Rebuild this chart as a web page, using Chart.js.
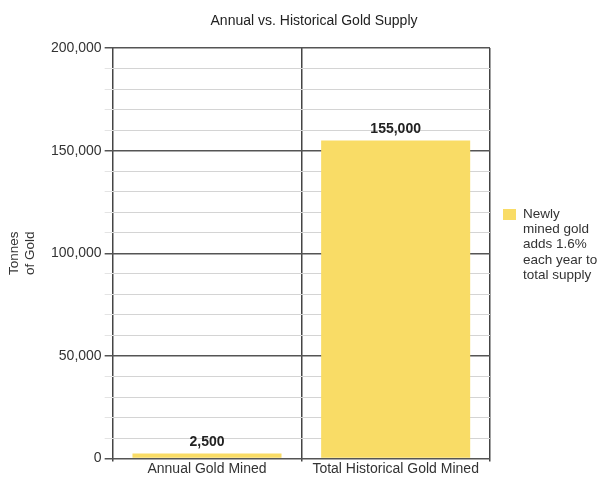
<!DOCTYPE html>
<html>
<head>
<meta charset="utf-8">
<title>Annual vs. Historical Gold Supply</title>
<script src="https://cdn.jsdelivr.net/npm/chart.js@4"></script>
<style>
  html, body { margin: 0; padding: 0; background: #fff; }
  #goldChart { display: block; }
</style>
</head>
<body>
<canvas id="goldChart" width="606" height="477"></canvas>
<script>
// 카테고리 / 값
const categories = ['Annual Gold Mined', 'Total Historical Gold Mined'];
const tonnes = [2500, 155000];
const seriesLabel = ['Newly', 'mined gold', 'adds 1.6%', 'each year to', 'total supply'];
const chartTitle = 'Annual vs. Historical Gold Supply';
const yTitle = ['Tonnes', 'of Gold'];

const barColor = '#f9dc66';
const textColor = '#333';
const fontFamily = '"Liberation Sans", Arial, sans-serif';

document.addEventListener('DOMContentLoaded', function() {

  // 제목 (캔버스 전체 기준 가운데 정렬)
  const topTitle = {
    id: 'topTitle',
    afterDraw(chart) {
      const c = chart.ctx;
      c.save();
      c.font = '14px ' + fontFamily;
      c.fillStyle = '#222';
      c.textAlign = 'center';
      c.textBaseline = 'middle';
      c.fillText(chartTitle, chart.width / 2 + 11, 21);
      c.restore();
    }
  };

  // 막대 위 값 표시
  const valueLabels = {
    id: 'valueLabels',
    afterDatasetsDraw(chart) {
      const c = chart.ctx;
      const meta = chart.getDatasetMeta(0);
      c.save();
      c.font = 'bold 14px ' + fontFamily;
      c.fillStyle = '#222';
      c.textAlign = 'center';
      c.textBaseline = 'bottom';
      meta.data.forEach((bar, i) => {
        const v = chart.data.datasets[0].data[i];
        c.fillText(v.toLocaleString('en-US'), bar.x, bar.y - 4);
      });
      c.restore();
    }
  };

  // 오른쪽 범례 (여러 줄)
  const sideLegend = {
    id: 'sideLegend',
    afterDraw(chart) {
      const c = chart.ctx;
      const area = chart.chartArea;
      const ds = chart.data.datasets[0];
      const x = area.right + 13;
      const y = 209;
      c.save();
      c.fillStyle = ds.backgroundColor;
      c.fillRect(x, y, 13, 11);
      c.font = '13.5px ' + fontFamily;
      c.fillStyle = textColor;
      c.textAlign = 'left';
      c.textBaseline = 'middle';
      ds.label.forEach((line, i) => {
        c.fillText(line, x + 20, y + 5 + i * 15.3);
      });
      c.restore();
    }
  };

  const ctx = document.getElementById('goldChart');
  const goldChart = new Chart(ctx, {
    type: 'bar',
    data: {
      labels: categories,
      datasets: [{
        label: seriesLabel,
        data: tonnes,
        backgroundColor: barColor,
        borderWidth: 0,
        barPercentage: 0.79,
        categoryPercentage: 1
      }]
    },
    options: {
      responsive: false,
      animation: false,
      layout: {
        padding: { left: 3, right: 116, top: 48, bottom: 0 }
      },
      plugins: {
        legend: { display: false },
        tooltip: { enabled: false },
        title: { display: false }
      },
      scales: {
        x: {
          grid: {
            offset: true,
            color: (c) => c.index === 2 ? '#a4a4b4' : '#444',
            lineWidth: 1.5,
            tickLength: 3
          },
          border: { display: false },
          ticks: {
            color: textColor,
            padding: 0,
            font: { family: fontFamily, size: 14, lineHeight: 1.1 }
          }
        },
        y: {
          min: 0,
          max: 200000,
          grid: {
            color: (c) => c.tick && c.tick.value % 50000 === 0 ? '#555' : '#d4d4d4',
            tickColor: (c) => c.tick && c.tick.value % 50000 === 0 ? '#555' : '#e4e4e4',
            lineWidth: (c) => c.tick && c.tick.value % 50000 === 0 ? 1.5 : 1,
            tickLength: 8
          },
          border: { display: false },
          ticks: {
            stepSize: 10000,
            autoSkip: false,
            color: textColor,
            padding: 3,
            font: { family: fontFamily, size: 14 },
            callback: (v) => v % 50000 === 0 ? v.toLocaleString('en-US') : ''
          },
          title: {
            display: true,
            text: yTitle,
            color: textColor,
            font: { family: fontFamily, size: 13.5, lineHeight: 1.15 },
            padding: { top: 4, bottom: 10 }
          }
        }
      }
    },
    plugins: [valueLabels, sideLegend, topTitle]
  });
});
</script>
</body>
</html>
